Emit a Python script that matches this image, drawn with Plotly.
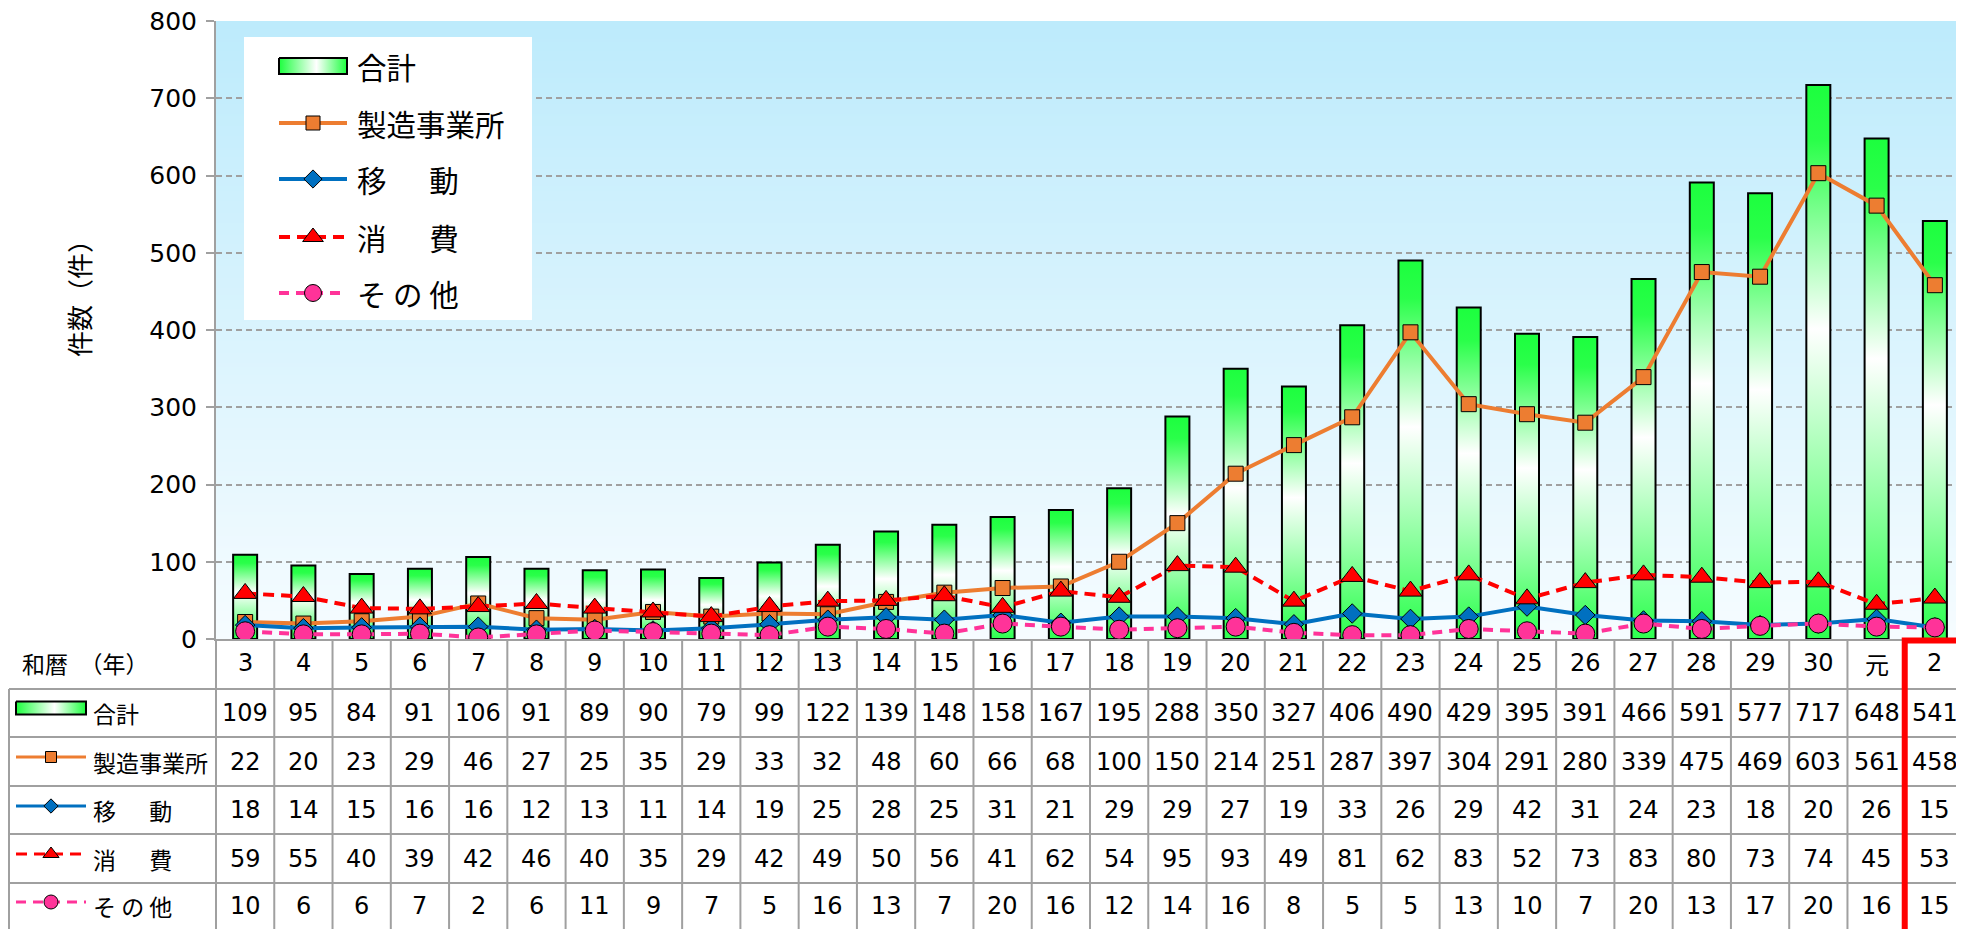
import base64
import struct
import zlib

import plotly.graph_objects as go

W, H = 1964, 929          # browser window
OX, OY = 8, 8             # default page margin around the plot div
FW, FH = W - OX, H - OY   # figure size that fills the rest of the window

years = ["3", "4", "5", "6", "7", "8", "9", "10", "11", "12", "13", "14", "15",
         "16", "17", "18", "19", "20", "21", "22", "23", "24", "25", "26", "27",
         "28", "29", "30", "元", "2"]
total = [109, 95, 84, 91, 106, 91, 89, 90, 79, 99, 122, 139, 148, 158, 167,
         195, 288, 350, 327, 406, 490, 429, 395, 391, 466, 591, 577, 717, 648, 541]
factory = [22, 20, 23, 29, 46, 27, 25, 35, 29, 33, 32, 48, 60, 66, 68,
           100, 150, 214, 251, 287, 397, 304, 291, 280, 339, 475, 469, 603, 561, 458]
transport = [18, 14, 15, 16, 16, 12, 13, 11, 14, 19, 25, 28, 25, 31, 21,
             29, 29, 27, 19, 33, 26, 29, 42, 31, 24, 23, 18, 20, 26, 15]
consumer = [59, 55, 40, 39, 42, 46, 40, 35, 29, 42, 49, 50, 56, 41, 62,
            54, 95, 93, 49, 81, 62, 83, 52, 73, 83, 80, 73, 74, 45, 53]
other = [10, 6, 6, 7, 2, 6, 11, 9, 7, 5, 16, 13, 7, 20, 16,
         12, 14, 16, 8, 5, 5, 13, 10, 7, 20, 13, 17, 20, 16, 15]
y_ticks = [0, 100, 200, 300, 400, 500, 600, 700, 800]

labels = ["合計", "製造事業所", "移\u3000  動", "消\u3000  費", "そ の 他"]

NUM_FONT = "DejaVu Sans"
JP_FONT = "Noto Sans CJK JP, DejaVu Sans"
GRID = "#A0A0A0"
GREEN_SCALE = [[0, "#2EFF50"], [0.08, "#45FF63"], [0.56, "#FFFFFF"],
               [0.9, "#2AFF4A"], [1, "#1CFF3E"]]
SWATCH_SCALE = [[0, "#1CFF3E"], [0.55, "#FFFFFF"], [1, "#1CFF3E"]]

# window-pixel geometry of the plot area and the table below it
PL, PR, PT, PB = 216, W, 21, 639
ROW_EDGES = [689, 737, 786, 834, 883]
ROW_MID = [713, 762, 810, 859, 906]
HEAD_MID = 663
N = len(years)
CW = (PR - PL) / N


def _bg_png(top, bottom, n=256):
    raw = b""
    for i in range(n):
        t = i / (n - 1)
        c = bytes(round(a + (b - a) * t) for a, b in zip(top, bottom))
        raw += b"\x00" + c + c

    def chunk(tag, data):
        return (struct.pack(">I", len(data)) + tag + data
                + struct.pack(">I", zlib.crc32(tag + data) & 0xFFFFFFFF))

    png = (b"\x89PNG\r\n\x1a\n"
           + chunk(b"IHDR", struct.pack(">IIBBBBB", 2, n, 8, 2, 0, 0, 0))
           + chunk(b"IDAT", zlib.compress(raw))
           + chunk(b"IEND", b""))
    return "data:image/png;base64," + base64.b64encode(png).decode()


def px(x):
    return (x - OX) / FW


def py(y):
    return 1 - (y - OY) / FH


fig = go.Figure()

# bars of the total, drawn as gradient-filled boxes on the category axis
hw = 12 / CW
for i, v in enumerate(total):
    fig.add_trace(go.Scatter(
        x=[i - hw, i - hw, i + hw, i + hw, i - hw], y=[0, v, v, 0, 0],
        mode="lines", fill="toself",
        fillgradient=dict(type="vertical", colorscale=GREEN_SCALE),
        line=dict(color="black", width=2),
        showlegend=False, hoverinfo="skip",
    ))

series = [
    (factory, "#ED7D31", "solid", "square", 15),
    (transport, "#0070C0", "solid", "diamond", 15),
    (consumer, "#FF0000", "11px,7px", "triangle-up", 20),
    (other, "#FF3399", "10px,7px", "circle", 19),
]
xs = list(range(N))
for (vals, color, dash, sym, size), name in zip(series, labels[1:]):
    fig.add_trace(go.Scatter(
        x=xs, y=vals, mode="lines+markers", name=name,
        line=dict(color=color, width=4, dash=dash),
        marker=dict(symbol=sym, size=size, color=color,
                    line=dict(color="black", width=1)),
        showlegend=False,
    ))

# ---- decoration layer in window pixels (x2/y2 cover the whole figure)
def deco(**kw):
    kw.setdefault("showlegend", False)
    kw.setdefault("hoverinfo", "skip")
    fig.add_trace(go.Scatter(xaxis="x2", yaxis="y2", **kw))


# legend box
deco(x=[244, 532, 532, 244, 244], y=[37, 37, 320, 320, 37], mode="lines",
     fill="toself", fillcolor="white", line=dict(width=0))

leg_rows = [66, 123, 179, 237, 293]
key_rows = [708, 757, 806, 854, 902]
for rows, (x0, x1), lw, scale in ((leg_rows, (279, 347), 4, 0.9),
                                  (key_rows, (16, 86), 3, 0.72)):
    xm = (x0 + x1) / 2
    yc = rows[0]
    hh = 8 if scale > 0.8 else 6.5
    deco(x=[x0, x1, x1, x0, x0], y=[yc - hh, yc - hh, yc + hh, yc + hh, yc - hh],
         mode="lines", fill="toself",
         fillgradient=dict(type="horizontal", colorscale=SWATCH_SCALE),
         line=dict(color="black", width=2))
    for (vals, color, dash, sym, size), yr in zip(series, rows[1:]):
        deco(x=[x0, x1], y=[yr, yr], mode="lines",
             line=dict(color=color, width=lw, dash=dash))
        deco(x=[xm], y=[yr], mode="markers",
             marker=dict(symbol=sym, size=round(size * scale), color=color,
                         line=dict(color="black", width=1)))

for lbl, yr in zip(labels, leg_rows):
    fig.add_annotation(x=355, y=yr, xref="x2", yref="y2", text=lbl,
                       showarrow=False, xanchor="left", yanchor="middle",
                       font=dict(family=JP_FONT, size=29.5, color="black"))

# table grid
shapes = []
for k in range(N + 1):
    xk = px(PL + k * CW)
    shapes.append(dict(type="line", xref="paper", yref="paper",
                       x0=xk, x1=xk, y0=py(PB), y1=py(H + 5),
                       line=dict(color=GRID, width=2)))
shapes.append(dict(type="line", xref="paper", yref="paper",
                   x0=px(9), x1=px(9), y0=py(ROW_EDGES[0]), y1=py(H + 5),
                   line=dict(color=GRID, width=2)))
for ye in ROW_EDGES:
    shapes.append(dict(type="line", xref="paper", yref="paper",
                       x0=px(9), x1=1, y0=py(ye), y1=py(ye),
                       line=dict(color=GRID, width=2)))
# highlight of the latest year
shapes.append(dict(type="rect", xref="paper", yref="paper",
                   x0=px(PL + (N - 1) * CW - 1), x1=px(W + 10),
                   y0=py(640.5), y1=py(H + 10),
                   line=dict(color="#FF0000", width=6)))

# table texts
for i, yl in enumerate(years):
    fig.add_annotation(x=i, xref="x", y=HEAD_MID, yref="y2", text=yl,
                       showarrow=False,
                       font=dict(family=JP_FONT if yl == "元" else NUM_FONT,
                                 size=24, color="black"))
for vals, ym in zip([total, factory, transport, consumer, other], ROW_MID):
    for i, v in enumerate(vals):
        fig.add_annotation(x=i, xref="x", y=ym, yref="y2", text=str(v),
                           showarrow=False,
                           font=dict(family=NUM_FONT, size=24, color="black"))
for lbl, ym in zip(labels, ROW_MID):
    fig.add_annotation(x=91, xref="x2", y=ym, yref="y2", text=lbl,
                       showarrow=False, xanchor="left",
                       font=dict(family=JP_FONT, size=23, color="black"))
fig.add_annotation(x=20, xref="x2", y=HEAD_MID, yref="y2",
                   text="和暦\u3000（年）", showarrow=False, xanchor="left",
                   font=dict(family=JP_FONT, size=23, color="black"))
fig.add_annotation(x=78, xref="x2", y=292, yref="y2", text="件数（件）",
                   textangle=-90, showarrow=False,
                   font=dict(family=JP_FONT, size=26, color="black"))

fig.update_layout(
    width=FW, height=FH,
    margin=dict(l=0, r=0, t=0, b=0, autoexpand=False),
    paper_bgcolor="white",
    plot_bgcolor="rgba(0,0,0,0)",
    font=dict(family=NUM_FONT, color="black"),
    shapes=shapes,
    images=[dict(source=_bg_png((189, 235, 252), (246, 252, 255)),
                 xref="x", yref="y", x=-0.5, y=800, sizex=N, sizey=800,
                 xanchor="left", yanchor="top", sizing="stretch",
                 layer="below")],
    xaxis=dict(domain=[px(PL), 1], range=[-0.5, N - 0.5], automargin=False,
               showticklabels=False, showgrid=False, zeroline=False,
               showline=True, linecolor=GRID, linewidth=2, ticks=""),
    yaxis=dict(domain=[py(PB), py(PT)], range=[0, 800],
               tickmode="array", tickvals=y_ticks,
               automargin=False, ticklabeloverflow="allow",
               showgrid=True, gridcolor=GRID, griddash="6px,4px", gridwidth=1.5,
               zeroline=False, showline=True, linecolor=GRID, linewidth=2,
               ticks="outside", ticklen=8, tickcolor=GRID, tickwidth=1.5,
               ticklabelstandoff=4,
               tickfont=dict(family=NUM_FONT, size=25, color="black")),
    xaxis2=dict(domain=[0, 1], range=[OX, W], visible=False, fixedrange=True,
                automargin=False, anchor="y2"),
    yaxis2=dict(domain=[0, 1], range=[H, OY], visible=False, fixedrange=True,
                automargin=False, anchor="x2"),
)

fig.write_html("out.html")
